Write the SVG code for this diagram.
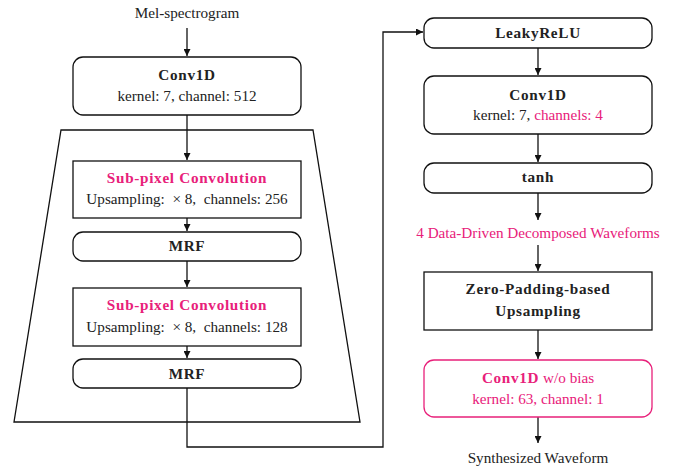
<svg xmlns="http://www.w3.org/2000/svg" width="674" height="467" viewBox="0 0 674 467">
<defs>
<marker id="ah" viewBox="0 0 10 10" refX="10" refY="5" markerWidth="7" markerHeight="7" markerUnits="userSpaceOnUse" orient="auto">
<path d="M0,0 L10,5 L0,10 Z" fill="#111"/>
</marker>
</defs>
<style>
.box{fill:#fff;stroke:#111;stroke-width:1.3}
.pbox{fill:#fff;stroke:#e8207a;stroke-width:1.3}
.t{font-family:"Liberation Serif","Times New Roman",serif;font-size:15.2px;fill:#222;text-anchor:middle}
.b{font-weight:bold;letter-spacing:0.7px}
.p{fill:#e8207a}
.c{fill:none;stroke:#111;stroke-width:1.3}
</style>
<rect width="674" height="467" fill="#fff"/>
<g id="trapezoid"><path d="M61,130 L313,130 L360,422 L14,422 Z" class="c"/></g>
<g id="connectors">
<line x1="187" y1="28" x2="187" y2="56" class="c" marker-end="url(#ah)"/>
<line x1="187" y1="115" x2="187" y2="160" class="c" marker-end="url(#ah)"/>
<line x1="187" y1="218" x2="187" y2="231" class="c" marker-end="url(#ah)"/>
<line x1="187" y1="261" x2="187" y2="287" class="c" marker-end="url(#ah)"/>
<line x1="187" y1="346" x2="187" y2="358" class="c" marker-end="url(#ah)"/>
<path d="M187,388 L187,447 L383,447 L383,32 L423,32" class="c" marker-end="url(#ah)"/>
<line x1="538" y1="48" x2="538" y2="75" class="c" marker-end="url(#ah)"/>
<line x1="538" y1="134" x2="538" y2="162" class="c" marker-end="url(#ah)"/>
<line x1="538" y1="193" x2="538" y2="220" class="c" marker-end="url(#ah)"/>
<line x1="538" y1="245" x2="538" y2="271" class="c" marker-end="url(#ah)"/>
<line x1="538" y1="330" x2="538" y2="359" class="c" marker-end="url(#ah)"/>
<line x1="538" y1="417" x2="538" y2="443" class="c" marker-end="url(#ah)"/>
</g>
<g id="mel"><text x="187" y="18" class="t">Mel-spectrogram</text></g>
<g id="conv1"><rect x="73" y="57" width="228" height="58" rx="10" class="box"/>
<text x="187" y="80" class="t b">Conv1D</text>
<text x="187" y="101" class="t">kernel: 7, channel: 512</text></g>
<g id="subpix1"><rect x="73" y="161" width="228" height="57" class="box"/>
<text x="187" y="183" class="t b p">Sub-pixel Convolution</text>
<text x="187" y="204" class="t" xml:space="preserve">Upsampling:  × 8,  channels: 256</text></g>
<g id="mrf1"><rect x="73" y="232" width="228" height="29" rx="10" class="box"/>
<text x="187" y="251" class="t b">MRF</text></g>
<g id="subpix2"><rect x="73" y="288" width="228" height="58" class="box"/>
<text x="187" y="310" class="t b p">Sub-pixel Convolution</text>
<text x="187" y="332" class="t" xml:space="preserve">Upsampling:  × 8,  channels: 128</text></g>
<g id="mrf2"><rect x="73" y="359" width="228" height="29" rx="10" class="box"/>
<text x="187" y="379" class="t b">MRF</text></g>
<g id="leaky"><rect x="424" y="18" width="228" height="30" rx="10" class="box"/>
<text x="538" y="38" class="t b">LeakyReLU</text></g>
<g id="conv2"><rect x="424" y="76" width="228" height="58" rx="10" class="box"/>
<text x="538" y="100" class="t b">Conv1D</text>
<text x="538" y="120" class="t">kernel: 7, <tspan class="p">channels: 4</tspan></text></g>
<g id="tanh"><rect x="424" y="163" width="228" height="30" rx="10" class="box"/>
<text x="538" y="182" class="t b">tanh</text></g>
<g id="ddw"><text x="538" y="238" class="t p">4 Data-Driven Decomposed Waveforms</text></g>
<g id="zp"><rect x="424" y="272" width="228" height="58" class="box"/>
<text x="538" y="294" class="t b">Zero-Padding-based</text>
<text x="538" y="316" class="t b">Upsampling</text></g>
<g id="conv3"><rect x="424" y="360" width="228" height="57" rx="10" class="pbox"/>
<text x="538" y="383" class="t p"><tspan class="b">Conv1D</tspan> w/o bias</text>
<text x="538" y="404" class="t p">kernel: 63, channel: 1</text></g>
<g id="synth"><text x="538" y="463" class="t">Synthesized Waveform</text></g>
</svg>
